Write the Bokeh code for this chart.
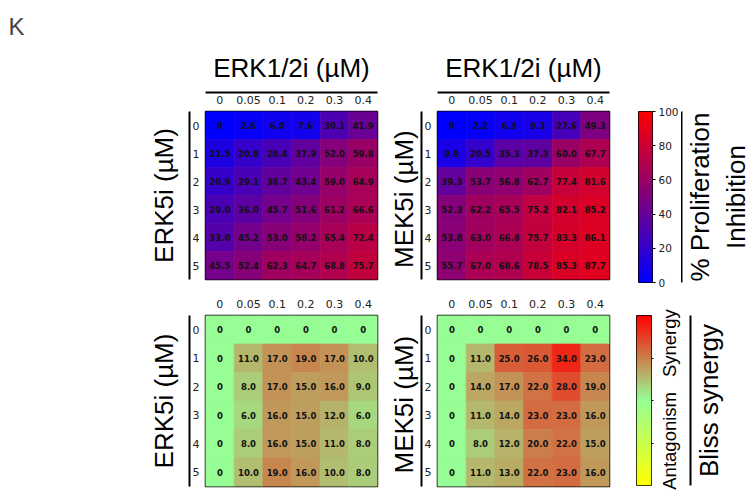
import numpy as np
from bokeh.plotting import figure
from bokeh.models import (FactorRange, Range1d, LinearAxis, CategoricalAxis, FixedTicker,
                          LinearColorMapper, ColumnDataSource)
from bokeh.layouts import row, column
from bokeh.core.properties import value
from bokeh.embed import file_html
from bokeh.resources import INLINE

# ---------------- data ----------------
erk12_doses = ["0", "0.05", "0.1", "0.2", "0.3", "0.4"]   # columns (ERK1/2i, uM)
erk5_doses = ["0", "1", "2", "3", "4", "5"]               # rows (ERK5i, uM)
mek5_doses = ["0", "1", "2", "3", "4", "5"]               # rows (MEK5i, uM)

inhib_erk5 = [
    [0, 2.6, 6.0, 7.6, 30.1, 41.9],
    [11.5, 20.8, 28.4, 37.9, 52.0, 59.8],
    [20.9, 29.1, 38.7, 43.4, 59.0, 64.9],
    [29.0, 36.0, 45.7, 51.6, 61.2, 66.6],
    [33.0, 45.2, 53.0, 58.2, 65.4, 72.4],
    [45.5, 52.4, 62.3, 64.7, 68.8, 75.7],
]
inhib_mek5 = [
    [0, 2.2, 6.3, 9.3, 27.6, 49.3],
    [9.9, 20.5, 35.3, 37.3, 60.0, 67.7],
    [39.3, 53.7, 56.8, 62.7, 77.4, 81.6],
    [52.3, 62.2, 65.5, 75.2, 82.1, 85.2],
    [53.8, 63.0, 66.8, 75.7, 83.3, 86.1],
    [55.7, 67.0, 68.6, 78.5, 85.3, 87.7],
]
bliss_erk5 = [
    [0, 0, 0, 0, 0, 0],
    [0, 11.0, 17.0, 19.0, 17.0, 10.0],
    [0, 8.0, 17.0, 15.0, 16.0, 9.0],
    [0, 6.0, 16.0, 15.0, 12.0, 6.0],
    [0, 8.0, 16.0, 15.0, 11.0, 8.0],
    [0, 10.0, 19.0, 16.0, 10.0, 8.0],
]
bliss_mek5 = [
    [0, 0, 0, 0, 0, 0],
    [0, 11.0, 25.0, 26.0, 34.0, 23.0],
    [0, 14.0, 17.0, 22.0, 28.0, 19.0],
    [0, 11.0, 14.0, 23.0, 23.0, 16.0],
    [0, 8.0, 12.0, 20.0, 22.0, 15.0],
    [0, 11.0, 13.0, 22.0, 23.0, 16.0],
]
inhib_ticks = [0, 20, 40, 60, 80, 100]
bliss_ticks = [-20, 0, 20]
bliss_words = {27: "Synergy", -19: "Antagonism"}

# ---------------- styles ----------------
SANS = "Liberation Sans"
TICKFONT = "DejaVu Sans"


def ramp(stops, n=256):
    pos = np.array([s[0] for s in stops])
    cols = np.array([s[1] for s in stops], float)
    t = np.linspace(0, 1, n)
    rgb = np.stack([np.interp(t, pos, cols[:, k]) for k in range(3)], axis=1)
    return ["#%02x%02x%02x" % tuple(int(round(c)) for c in c3) for c3 in rgb]


inhib_mapper = LinearColorMapper(palette=ramp([(0, (0, 0, 255)), (1, (255, 0, 0))]),
                                 low=0, high=100)
bliss_mapper = LinearColorMapper(palette=ramp([(0, (255, 255, 0)), (0.5, (150, 255, 150)),
                                               (1, (255, 0, 0))]), low=-40, high=40)


def deco_axis(cls, label=None, standoff=0, line=True, size="26px"):
    return cls(ticker=FixedTicker(ticks=[]), axis_label=label,
               axis_label_standoff=standoff, axis_label_text_font=SANS,
               axis_label_text_font_size=size, axis_label_text_font_style="normal",
               axis_label_text_color="black",
               axis_line_color="black" if line else None, axis_line_width=2,
               major_tick_line_color=None, minor_tick_line_color=None,
               major_tick_out=0, major_tick_in=0, minor_tick_out=0, minor_tick_in=0,
               major_label_standoff=0)


def base_fig(x_range, y_range, fw, fh, mb, **kw):
    l, t, r, b = mb
    p = figure(x_range=x_range, y_range=y_range, frame_width=fw, frame_height=fh,
               toolbar_location=None, output_backend="svg",
               min_border_left=l, min_border_top=t, min_border_right=r, min_border_bottom=b,
               background_fill_color="white", border_fill_color="white", **kw)
    p.grid.visible = False
    return p


def heatmap(matrix, row_doses, mapper, row_title, col_title, mb, fh, row_standoff):
    xs, ys, vals, labels = [], [], [], []
    for i, rd in enumerate(row_doses):
        for j, cd in enumerate(erk12_doses):
            v = matrix[i][j]
            xs.append(cd)
            ys.append(rd)
            vals.append(v)
            labels.append("0" if v == 0 else f"{v:.1f}")
    src = ColumnDataSource(dict(x=xs, y=ys, v=vals, label=labels))
    p = base_fig(FactorRange(factors=erk12_doses), FactorRange(factors=list(reversed(row_doses))),
                 172, fh, mb, x_axis_location="above")
    p.rect("x", "y", 1, 1, source=src, fill_color={"field": "v", "transform": mapper},
           line_color={"field": "v", "transform": mapper}, line_width=0.7)
    p.text("x", "y", text="label", source=src, text_align="center", text_baseline="middle",
           text_font=value(TICKFONT), text_font_style="bold", text_font_size="8.5px",
           text_color="#111111")
    p.outline_line_color = "black"
    p.outline_line_width = 1.5
    for ax in (p.xaxis[0], p.yaxis[0]):
        ax.axis_line_color = None
        ax.major_tick_line_color = None
        ax.minor_tick_line_color = None
        ax.major_tick_out = 0
        ax.major_tick_in = 0
        ax.major_label_text_font = TICKFONT
        ax.major_label_text_font_size = "11px"
        ax.major_label_text_color = "#222222"
        ax.major_label_standoff = 6
    p.xaxis[0].major_label_standoff = 8
    p.add_layout(deco_axis(CategoricalAxis, row_title, row_standoff), "left")
    if col_title:
        p.add_layout(deco_axis(CategoricalAxis, col_title, 10), "above")
    return p


def colorbar(mapper, lo, hi, mb, fw, fh):
    p = base_fig(Range1d(0, 1), Range1d(lo, hi), fw, fh, mb,
                 x_axis_location=None, y_axis_location="right")
    grad = np.linspace(lo, hi, 256).reshape(-1, 1)
    p.image(image=[grad], x=0, y=lo, dw=1, dh=hi - lo, color_mapper=mapper)
    p.outline_line_color = "black"
    p.outline_line_width = 1
    ax = p.yaxis[0]
    ax.axis_line_color = None
    ax.major_label_text_font = TICKFONT
    ax.major_label_text_color = "#222222"
    return p


def label_fig(lo, hi, mb, fh):
    p = base_fig(Range1d(0, 1), Range1d(lo, hi), 1, fh, mb,
                 x_axis_location=None, y_axis_location=None)
    p.outline_line_color = None
    return p


# ---------------- panels ----------------
p1 = heatmap(inhib_erk5, erk5_doses, inhib_mapper, "ERK5i (µM)", "ERK1/2i (µM)",
             (205, 111, 8, 11), 168, 11)
p1.title.text = "K"
p1.title.align = "left"
p1.title.offset = -197
p1.title.text_font = SANS
p1.title.text_font_size = "24px"
p1.title.text_font_style = "normal"
p1.title.standoff = 19

p2 = heatmap(inhib_mek5, mek5_doses, inhib_mapper, "MEK5i  (µM)", "ERK1/2i (µM)",
             (50, 111, 15, 11), 168, 3)
p3 = heatmap(bliss_erk5, erk5_doses, bliss_mapper, "ERK5i (µM)", None,
             (205, 25, 8, 6), 171, 11)
p4 = heatmap(bliss_mek5, mek5_doses, bliss_mapper, "MEK5i  (µM)", None,
             (50, 25, 15, 6), 171, 3)

# colour bar: proliferation inhibition  (x 622 -> 678)
cb1 = colorbar(inhib_mapper, 0, 100, (14, 110, 28, 9), 14, 171)
a1 = cb1.yaxis[0]
a1.ticker = FixedTicker(ticks=inhib_ticks)
a1.major_tick_out = 3
a1.major_tick_in = 0
a1.minor_tick_line_color = None
a1.major_label_standoff = 3
a1.major_label_text_font_size = "10.5px"

# label block for the inhibition bar (x 678 -> 752)
lb1 = label_fig(0, 100, (73, 110, 0, 9), 171)
lb1.add_layout(deco_axis(LinearAxis, "% Proliferation\nInhibition", 4, line=False), "left")
lb1.add_layout(deco_axis(LinearAxis), "left")

# colour bar: Bliss synergy (x 622 -> 652)
cb2 = colorbar(bliss_mapper, -40, 40, (12, 25, 3, 7), 15, 170)
a2 = cb2.yaxis[0]
a2.ticker = FixedTicker(ticks=[], minor_ticks=bliss_ticks)
a2.major_tick_line_color = None
a2.major_tick_out = 0
a2.minor_tick_line_color = "black"
a2.minor_tick_out = 2
a2.minor_tick_in = 0
a2.major_label_standoff = 0

# label block for the Bliss bar (x 652 -> 752)
lb2 = label_fig(-40, 40, (99, 25, 0, 7), 170)
lb2.add_layout(deco_axis(LinearAxis, "Bliss synergy", 30, line=False), "left")
lb2.add_layout(deco_axis(LinearAxis), "left")
words = LinearAxis(ticker=FixedTicker(ticks=list(bliss_words.keys())),
                   major_label_overrides=bliss_words, major_label_orientation="vertical",
                   major_label_standoff=11, major_label_text_font=SANS,
                   major_label_text_font_size="18.5px", major_label_text_color="black",
                   axis_line_color=None, major_tick_line_color=None,
                   minor_tick_line_color=None, major_tick_out=0, major_tick_in=0,
                   minor_tick_out=0, minor_tick_in=0)
lb2.add_layout(words, "left")

layout = column(row(p1, p2, cb1, lb1), row(p3, p4, cb2, lb2))

open("out.html", "w").write(file_html(layout, INLINE))
